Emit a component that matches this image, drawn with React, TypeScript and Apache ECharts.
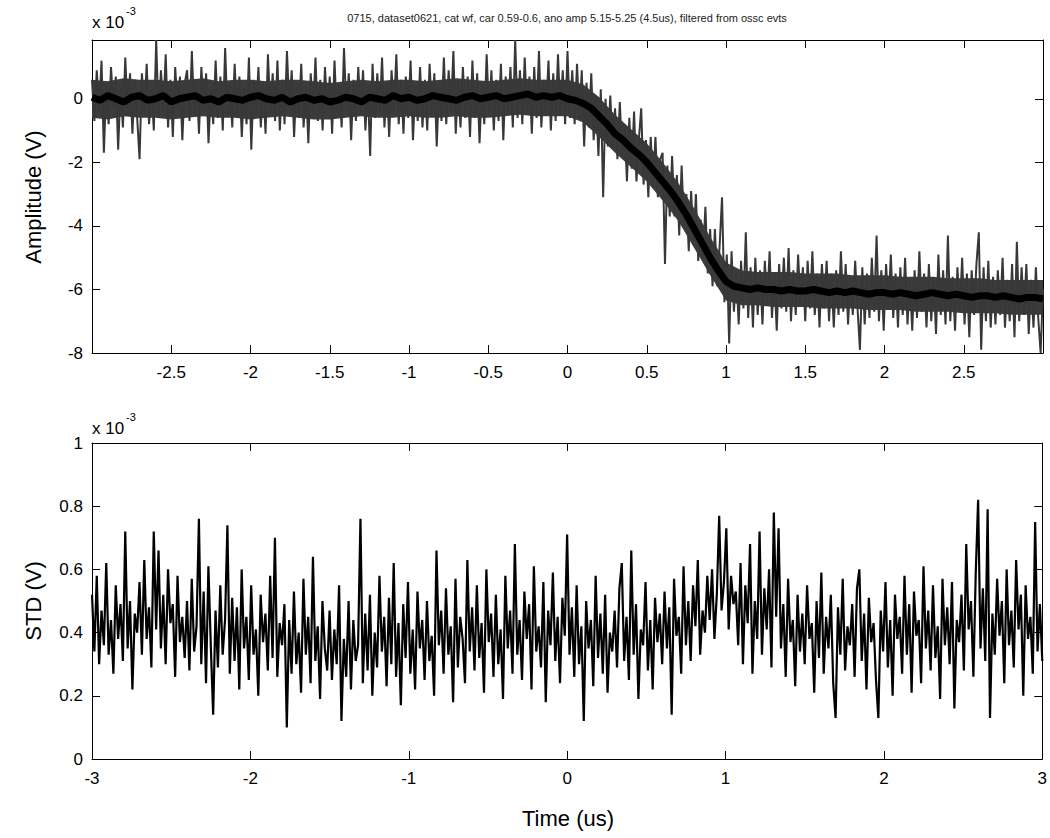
import React, { useEffect, useRef } from "react";
import * as echarts from "echarts";

const TITLE =
  "0715, dataset0621, cat wf, car 0.59-0.6, ano amp 5.15-5.25 (4.5us), filtered from ossc evts";

// sample time grid (us)
const SAMPLE_START = -3;
const SAMPLE_STEP = 0.015;
const MEAN_START = -3;
const MEAN_STEP = 0.05;
const BAND_START = -3;
const BAND_STEP = 0.1;

// top panel: raw amplitude trace (x 10^-3 V)
const amplitudeRaw = [
  0.6, -0.7, 0.9, -0.4, 1.2, -1.7, 0.5, -0.8, 1.0, -0.3, 0.7, -1.6, 0.4, -0.9, 1.3, -0.5, 0.8, -1.1, 0.6, -0.6,
  -1.9, 0.8, -0.5, 1.1, -0.8, 0.4, -1.0, 1.85, -0.6, 0.9, -0.4, 1.4, -0.9, 0.6, -1.2, 1.0, -0.3, 0.7, -1.3, 0.5,
  0.9, -0.7, 1.5, -0.5, 0.6, -1.1, 1.0, -0.4, 0.8, -1.4, 0.3, -0.8, 1.2, -0.6, 0.7, -1.0, 1.6, -0.5, 0.5, -0.9,
  1.1, -0.6, 0.7, -1.2, 0.4, -0.8, 1.3, -1.6, 0.6, -0.5, 1.0, -0.9, 0.5, -1.1, 1.4, -0.4, 0.8, -0.7, 1.2, -1.0,
  0.6, -0.8, 1.5, -0.3, 0.9, -1.2, 0.5, -0.6, 1.1, -0.9, 0.4, -1.4, 0.8, -0.5, 1.3, -0.7, 0.6, -1.0, 1.0, -0.4,
  0.7, -1.1, 1.2, -0.6, 0.5, -0.9, 1.6, -0.4, 0.8, -1.3, 0.6, -0.7, 1.0, -0.5, 0.9, -1.0, 0.4, -1.8, 1.1, -0.6,
  0.8, -0.5, 1.3, -0.9, 0.5, -1.2, 0.9, -0.4, 1.4, -0.8, 0.6, -1.1, 0.7, -0.6, 1.2, -1.3, 0.4, -0.7, 1.0, -0.9,
  0.6, -1.0, 1.1, -0.5, 0.8, -1.5, 0.5, -0.7, 1.3, -0.8, 0.9, -0.4, 1.5, -1.1, 0.6, -0.9, 1.0, -0.6, 0.7, -1.2,
  1.2, -0.6, 0.8, -1.4, 0.5, -0.8, 1.4, -0.5, 0.9, -1.0, 0.6, -0.7, 1.1, -1.3, 0.7, -0.4, 1.0, -0.9, 1.85, -0.6,
  0.9, -0.8, 1.3, -0.5, 0.7, -1.1, 1.0, -0.6, 1.5, -0.9, 0.6, -0.4, 1.2, -1.0, 0.8, -0.7, 1.4, -0.5, 0.9, -0.8,
  1.5, -0.6, 0.9, -0.8, 1.1, -0.6, 0.9, -1.5, 0.5, -0.9, 0.8, -1.3, 0.1, -1.8, 0.3, -3.1, 0.0, -1.5, 0.1, -1.5,
  -0.3, -1.9, -0.1, -1.8, -0.8, -2.6, -0.6, -2.2, -0.4, -2.6, -1.3, -0.3, -2.7, -1.3, -3.1, -1.2, -2.8, -1.2, -3.1, -1.9,
  -1.7, -5.2, -2.1, -3.7, -1.8, -3.7, -2.4, -4.3, -2.1, -4.0, -3.0, -4.8, -2.9, -4.6, -3.0, -5.1, -3.8, -5.0, -3.4, -5.5,
  -4.1, -5.9, -4.1, -5.9, -4.6, -3.1, -6.4, -4.9, -7.7, -4.8, -6.7, -5.4, -7.1, -5.1, -6.6, -4.2, -6.9, -5.3, -7.2, -5.0,
  -6.8, -5.4, -7.1, -5.1, -6.5, -4.8, -6.9, -5.5, -7.3, -5.2, -6.6, -5.0, -6.7, -4.7, -7.0, -5.4, -6.8, -4.9, -6.5, -5.3,
  -7.0, -5.1, -6.6, -4.8, -6.8, -5.5, -7.2, -5.2, -6.6, -5.1, -7.0, -5.5, -7.2, -5.4, -6.8, -4.8, -6.7, -5.2, -7.1, -5.6,
  -6.8, -5.1, -6.6, -7.9, -5.3, -7.1, -5.5, -6.9, -5.0, -6.7, -4.3, -7.0, -5.4, -7.3, -5.2, -6.6, -4.9, -6.9, -5.5, -7.2,
  -5.3, -6.8, -5.0, -7.1, -5.7, -7.3, -5.4, -6.9, -4.8, -6.7, -5.5, -7.2, -5.2, -7.0, -5.6, -7.4, -4.9, -6.8, -5.4, -7.1,
  -4.3, -7.0, -5.6, -7.3, -5.3, -6.7, -5.0, -7.1, -5.5, -7.5, -5.4, -6.8, -5.2, -4.2, -7.9, -5.3, -7.0, -5.1, -7.2, -5.6,
  -7.1, -5.4, -6.8, -5.0, -7.2, -5.7, -7.0, -5.2, -7.5, -4.5, -7.0, -5.3, -6.8, -5.2, -7.4, -5.7, -7.2, -5.3, -6.9, -8.0,
  -6.0,
];

// top panel: dense core of the noise band (x 10^-3 V), every 0.1 us
const amplitudeBandUpper = [
  0.6, 0.55, 0.65, 0.6, 0.6, 0.55, 0.6, 0.65, 0.55, 0.6,
  0.6, 0.55, 0.6, 0.6, 0.55, 0.5, 0.55, 0.6, 0.55, 0.6,
  0.6, 0.55, 0.6, 0.65, 0.6, 0.55, 0.6, 0.65, 0.6, 0.6,
  0.6, 0.45, 0.05, -0.5, -0.95, -1.4, -2.0, -2.65, -3.45, -4.35,
  -5.15, -5.4, -5.45, -5.45, -5.45, -5.5, -5.5, -5.5, -5.55, -5.55,
  -5.55, -5.6, -5.6, -5.6, -5.65, -5.65, -5.65, -5.7, -5.7, -5.7,
  -5.7,
];
const amplitudeBandLower = [
  -0.6, -0.65, -0.55, -0.6, -0.6, -0.65, -0.6, -0.55, -0.6, -0.6,
  -0.65, -0.6, -0.55, -0.6, -0.65, -0.65, -0.6, -0.55, -0.6, -0.6,
  -0.55, -0.6, -0.6, -0.55, -0.6, -0.6, -0.55, -0.5, -0.55, -0.55,
  -0.55, -0.75, -1.2, -1.7, -2.15, -2.6, -3.2, -3.85, -4.7, -5.55,
  -6.35, -6.5, -6.5, -6.55, -6.55, -6.55, -6.6, -6.6, -6.6, -6.65,
  -6.65, -6.65, -6.7, -6.7, -6.7, -6.75, -6.75, -6.75, -6.8, -6.8,
  -6.8,
];

// top panel: averaged amplitude (x 10^-3 V), every 0.05 us
const amplitudeMean = [
  0.05, -0.05, 0.1, 0.0, -0.1, 0.05, 0.1, -0.05, 0.0, 0.1,
  -0.1, 0.0, 0.05, 0.1, -0.05, 0.0, -0.1, 0.05, 0.0, -0.05,
  0.05, 0.1, 0.0, -0.05, 0.05, -0.1, 0.0, 0.05, -0.05, 0.0,
  -0.1, -0.05, 0.05, 0.0, -0.1, 0.05, 0.0, -0.05, 0.1, 0.0,
  0.05, -0.05, 0.0, 0.1, 0.05, 0.0, -0.05, 0.05, 0.1, 0.0,
  0.05, 0.1, 0.0, 0.05, 0.1, 0.15, 0.05, 0.1, 0.05, 0.1,
  0.0, -0.05, -0.15, -0.3, -0.55, -0.8, -1.1, -1.3, -1.55, -1.75,
  -2.0, -2.3, -2.6, -2.9, -3.25, -3.65, -4.1, -4.55, -5.0, -5.4,
  -5.75, -5.9, -5.95, -6.0, -5.95, -6.0, -6.0, -6.05, -6.0, -6.05,
  -6.05, -6.0, -6.05, -6.1, -6.05, -6.1, -6.05, -6.1, -6.15, -6.1,
  -6.1, -6.15, -6.1, -6.15, -6.2, -6.15, -6.1, -6.15, -6.2, -6.15,
  -6.2, -6.25, -6.2, -6.2, -6.25, -6.2, -6.25, -6.3, -6.25, -6.25,
  -6.3,
];

// bottom panel: STD (x 10^-3 V)
const stdValues = [
  0.52, 0.34, 0.58, 0.30, 0.47, 0.36, 0.62, 0.33, 0.44, 0.27, 0.55, 0.38, 0.49, 0.31, 0.72, 0.35, 0.50, 0.22, 0.46, 0.40,
  0.56, 0.33, 0.63, 0.38, 0.48, 0.29, 0.72, 0.41, 0.66, 0.35, 0.52, 0.30, 0.60, 0.43, 0.49, 0.26, 0.58, 0.37, 0.45, 0.32,
  0.50, 0.28, 0.57, 0.34, 0.42, 0.76, 0.30, 0.53, 0.24, 0.61, 0.36, 0.14, 0.47, 0.29, 0.55, 0.33, 0.44, 0.74, 0.27, 0.51,
  0.31, 0.48, 0.22, 0.60, 0.35, 0.45, 0.25, 0.55, 0.33, 0.41, 0.20, 0.52, 0.37, 0.46, 0.28, 0.58, 0.32, 0.70, 0.26, 0.43,
  0.36, 0.49, 0.10, 0.44, 0.27, 0.53, 0.30, 0.40, 0.21, 0.57, 0.33, 0.45, 0.24, 0.64, 0.31, 0.42, 0.19, 0.50, 0.35, 0.28,
  0.47, 0.25, 0.41, 0.30, 0.55, 0.12, 0.38, 0.26, 0.50, 0.22, 0.44, 0.31, 0.36, 0.76, 0.24, 0.46, 0.28, 0.52, 0.20, 0.40,
  0.29, 0.58, 0.34, 0.45, 0.23, 0.51, 0.30, 0.62, 0.26, 0.43, 0.17, 0.49, 0.32, 0.56, 0.27, 0.41, 0.22, 0.53, 0.35, 0.44,
  0.25, 0.50, 0.31, 0.39, 0.20, 0.66, 0.36, 0.47, 0.27, 0.54, 0.33, 0.42, 0.18, 0.57, 0.29, 0.45, 0.38, 0.24, 0.63, 0.34,
  0.48, 0.28, 0.55, 0.32, 0.43, 0.21, 0.60, 0.37, 0.46, 0.26, 0.52, 0.30, 0.41, 0.19, 0.58, 0.35, 0.47, 0.27, 0.68, 0.33,
  0.44, 0.25, 0.53, 0.38, 0.49, 0.22, 0.61, 0.34, 0.42, 0.29, 0.56, 0.18, 0.47, 0.36, 0.59, 0.31, 0.45, 0.24, 0.51, 0.39,
  0.71, 0.33, 0.48, 0.26, 0.55, 0.30, 0.42, 0.12, 0.50, 0.35, 0.44, 0.23, 0.58, 0.32, 0.46, 0.27, 0.52, 0.21, 0.40, 0.34,
  0.47, 0.29, 0.54, 0.62, 0.31, 0.45, 0.25, 0.66, 0.33, 0.49, 0.19, 0.41, 0.36, 0.56, 0.28, 0.44, 0.22, 0.51, 0.37, 0.46,
  0.30, 0.53, 0.35, 0.48, 0.14, 0.57, 0.39, 0.45, 0.27, 0.61, 0.36, 0.50, 0.31, 0.55, 0.42, 0.63, 0.33, 0.47, 0.40, 0.58,
  0.44, 0.60, 0.38, 0.52, 0.77, 0.47, 0.56, 0.73, 0.41, 0.58, 0.49, 0.53, 0.36, 0.62, 0.30, 0.55, 0.43, 0.68, 0.27, 0.50,
  0.38, 0.72, 0.33, 0.54, 0.41, 0.60, 0.29, 0.78, 0.45, 0.73, 0.35, 0.49, 0.26, 0.57, 0.37, 0.44, 0.23, 0.52, 0.34, 0.46,
  0.30, 0.55, 0.38, 0.43, 0.21, 0.50, 0.32, 0.59, 0.27, 0.45, 0.35, 0.52, 0.24, 0.13, 0.48, 0.33, 0.57, 0.28, 0.42, 0.36,
  0.49, 0.26, 0.54, 0.60, 0.31, 0.46, 0.22, 0.51, 0.37, 0.43, 0.25, 0.13, 0.47, 0.34, 0.56, 0.29, 0.44, 0.20, 0.52, 0.38,
  0.45, 0.27, 0.58, 0.33, 0.49, 0.21, 0.53, 0.39, 0.44, 0.24, 0.61, 0.35, 0.47, 0.28, 0.55, 0.32, 0.42, 0.19, 0.57, 0.36,
  0.48, 0.30, 0.56, 0.16, 0.44, 0.37, 0.52, 0.28, 0.68, 0.41, 0.50, 0.26, 0.59, 0.82, 0.35, 0.54, 0.31, 0.79, 0.13, 0.46,
  0.33, 0.57, 0.39, 0.50, 0.24, 0.60, 0.36, 0.47, 0.29, 0.63, 0.41, 0.52, 0.20, 0.55, 0.38, 0.45, 0.27, 0.75, 0.34, 0.49,
  0.31,
];

const FONT = "Liberation Sans, Arial, Helvetica, sans-serif";

function fmt(v: number) {
  return String(parseFloat(v.toFixed(2)));
}

function bandSeries(upper: number[], lower: number[], xi: number, yi: number, color: string) {
  return {
    type: "custom",
    xAxisIndex: xi,
    yAxisIndex: yi,
    silent: true,
    clip: true,
    data: [[0, 0]],
    renderItem: (_params: any, api: any) => {
      const pts: number[][] = [];
      upper.forEach((v, i) => pts.push(api.coord([BAND_START + i * BAND_STEP, v])));
      for (let i = lower.length - 1; i >= 0; i--) {
        pts.push(api.coord([BAND_START + i * BAND_STEP, lower[i]]));
      }
      return {
        type: "polygon",
        shape: { points: pts },
        style: { fill: color },
      };
    },
  };
}

export default function App() {
  const ref = useRef<HTMLDivElement>(null);

  useEffect(() => {
    if (!ref.current) return;
    const chart = echarts.init(ref.current, undefined, { renderer: "svg" });

    const rawData = amplitudeRaw.map((v, i) => [SAMPLE_START + i * SAMPLE_STEP, v]);
    const meanData = amplitudeMean.map((v, i) => [MEAN_START + i * MEAN_STEP, v]);
    const stdData = stdValues.map((v, i) => [SAMPLE_START + i * SAMPLE_STEP, v]);

    const line = { show: true, onZero: false, lineStyle: { color: "#000", width: 1 } };
    const tick = { show: true, inside: true, length: 8, lineStyle: { color: "#000", width: 1 } };
    const label = { fontFamily: FONT, fontSize: 17, color: "#000" };

    const xBase = (grid: number, interval: number, pos: string, showLabel: boolean, fmtFn?: any) => ({
      type: "value",
      gridIndex: grid,
      min: -3,
      max: 3,
      interval,
      position: pos,
      axisLine: line,
      axisTick: tick,
      splitLine: { show: false },
      axisLabel: showLabel
        ? { show: true, margin: 11, ...label, formatter: fmtFn }
        : { show: false },
    });
    const yBase = (grid: number, min: number, max: number, interval: number, pos: string, showLabel: boolean, fmtFn?: any) => ({
      type: "value",
      gridIndex: grid,
      min,
      max,
      interval,
      position: pos,
      axisLine: line,
      axisTick: tick,
      splitLine: { show: false },
      axisLabel: showLabel
        ? { show: true, margin: 9, ...label, formatter: fmtFn }
        : { show: false },
    });

    const option: any = {
      animation: false,
      backgroundColor: "#fff",
      grid: [
        { left: 92, right: 7, top: 40, height: 313 },
        { left: 92, right: 7, top: 443, height: 316 },
      ],
      xAxis: [
        xBase(0, 0.5, "bottom", true, (v: number) => (Math.abs(v) > 2.9 ? "" : fmt(v))),
        xBase(0, 0.5, "top", false),
        xBase(1, 1, "bottom", true, (v: number) => fmt(v)),
        xBase(1, 1, "top", false),
      ],
      yAxis: [
        yBase(0, -8, 1.85, 2, "left", true, (v: number) =>
          Math.abs(v / 2 - Math.round(v / 2)) < 1e-6 ? fmt(v) : ""
        ),
        yBase(0, -8, 1.85, 2, "right", false),
        yBase(1, 0, 1, 0.2, "left", true, (v: number) => fmt(v)),
        yBase(1, 0, 1, 0.2, "right", false),
      ],
      series: [
        bandSeries(amplitudeBandUpper, amplitudeBandLower, 0, 0, "#3c3c3c"),
        {
          type: "line",
          xAxisIndex: 0,
          yAxisIndex: 0,
          data: rawData,
          symbol: "none",
          silent: true,
          lineStyle: { color: "#383838", width: 2 },
        },
        {
          type: "line",
          xAxisIndex: 0,
          yAxisIndex: 0,
          data: meanData,
          symbol: "none",
          silent: true,
          lineStyle: { color: "#000", width: 7 },
        },
        {
          type: "line",
          xAxisIndex: 2,
          yAxisIndex: 2,
          data: stdData,
          symbol: "none",
          silent: true,
          lineStyle: { color: "#000", width: 2.2 },
        },
      ],
      graphic: [
        {
          type: "text",
          x: 567,
          y: 18,
          style: { text: TITLE, fontFamily: FONT, fontSize: 11, fill: "#222", textAlign: "center", textVerticalAlign: "middle" },
        },
        {
          type: "text",
          x: 92,
          y: 22,
          style: { text: "x 10", fontFamily: FONT, fontSize: 17, fill: "#000", textAlign: "left", textVerticalAlign: "middle" },
        },
        {
          type: "text",
          x: 126,
          y: 11,
          style: { text: "-3", fontFamily: FONT, fontSize: 11, fill: "#000", textAlign: "left", textVerticalAlign: "middle" },
        },
        {
          type: "text",
          x: 92,
          y: 428,
          style: { text: "x 10", fontFamily: FONT, fontSize: 17, fill: "#000", textAlign: "left", textVerticalAlign: "middle" },
        },
        {
          type: "text",
          x: 126,
          y: 417,
          style: { text: "-3", fontFamily: FONT, fontSize: 11, fill: "#000", textAlign: "left", textVerticalAlign: "middle" },
        },
        {
          type: "text",
          x: 33,
          y: 197,
          rotation: Math.PI / 2,
          style: { text: "Amplitude (V)", fontFamily: FONT, fontSize: 22, fill: "#000", textAlign: "center", textVerticalAlign: "middle" },
        },
        {
          type: "text",
          x: 33,
          y: 601,
          rotation: Math.PI / 2,
          style: { text: "STD (V)", fontFamily: FONT, fontSize: 22, fill: "#000", textAlign: "center", textVerticalAlign: "middle" },
        },
        {
          type: "text",
          x: 568,
          y: 818,
          style: { text: "Time (us)", fontFamily: FONT, fontSize: 22, fill: "#000", textAlign: "center", textVerticalAlign: "middle" },
        },
      ],
    };

    chart.setOption(option);
    return () => chart.dispose();
  }, []);

  return (
    <div
      ref={ref}
      style={{ position: "absolute", left: 0, top: 0, width: 1050, height: 838, background: "#fff" }}
    />
  );
}
